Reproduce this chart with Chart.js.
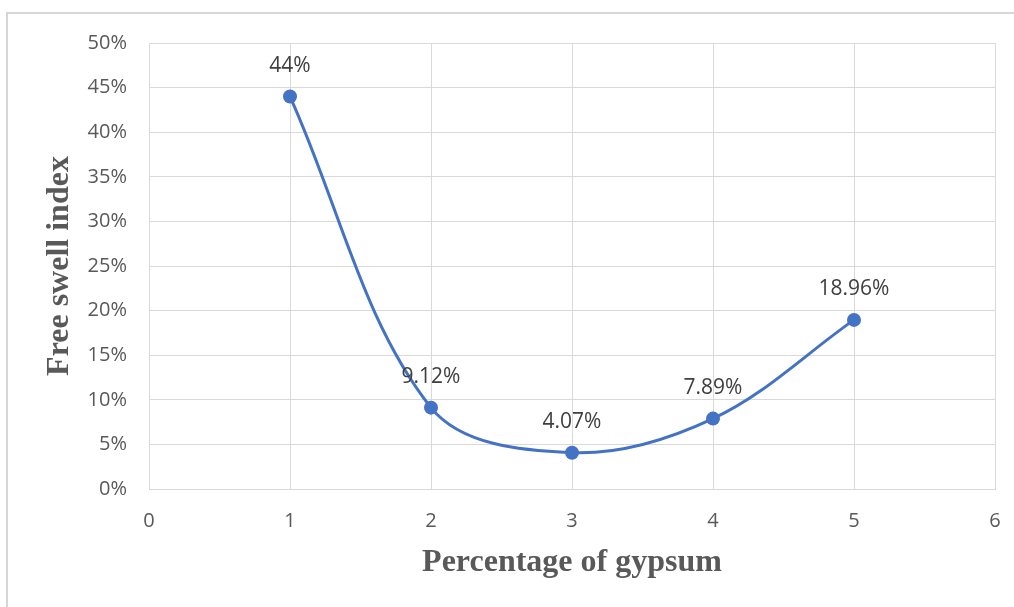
<!DOCTYPE html>
<html>
<head>
<meta charset="utf-8">
<script src="https://cdn.jsdelivr.net/npm/chart.js@4/dist/chart.umd.min.js"></script>
<style>
html,body{margin:0;padding:0;background:#fff;}
#wrap{width:1014px;height:607px;position:relative;}
</style>
</head>
<body>
<div id="wrap"><canvas id="c" width="1014" height="607"></canvas></div>
<script>
const gypsum = [1, 2, 3, 4, 5];
const swellIndex = [0.44, 0.0912, 0.0407, 0.0789, 0.1896];
const pointLabels = ['44%', '9.12%', '4.07%', '7.89%', '18.96%'];
const xTitle = 'Percentage of gypsum';
const yTitle = 'Free swell index';

const blue = '#4472C4';
const gridColor = '#d9d9d9';
const tickFont = {family: "'Open Sans', 'Liberation Sans', sans-serif", size: 20};
const titleFont = {family: "'Liberation Serif', 'Times New Roman', serif", size: 32, weight: 'bold'};

const framePlugin = {
  id: 'frame',
  beforeDraw(chart) {
    const ctx = chart.ctx;
    ctx.save();
    ctx.fillStyle = '#fff';
    ctx.fillRect(0, 0, chart.width, chart.height);
    ctx.strokeStyle = '#d6d6d6';
    ctx.lineWidth = 2;
    ctx.beginPath();
    ctx.moveTo(7, chart.height + 5);
    ctx.lineTo(7, 13);
    ctx.lineTo(chart.width + 5, 13);
    ctx.stroke();
    ctx.restore();
  }
};

const labelPlugin = {
  id: 'pointLabels',
  afterDatasetsDraw(chart) {
    const ctx = chart.ctx;
    const meta = chart.getDatasetMeta(0);
    ctx.save();
    ctx.font = "21px 'Open Sans', 'Liberation Sans', sans-serif";
    ctx.fillStyle = '#404040';
    ctx.textAlign = 'center';
    ctx.textBaseline = 'middle';
    meta.data.forEach((pt, i) => {
      ctx.fillText(pointLabels[i], pt.x, pt.y - 31);
    });
    ctx.restore();
  }
};

new Chart(document.getElementById('c'), {
  type: 'line',
  data: {
    datasets: [{
      data: gypsum.map((x, i) => ({x: x, y: swellIndex[i]})),
      borderColor: blue,
      backgroundColor: blue,
      borderWidth: 3,
      pointRadius: 7,
      pointHoverRadius: 7,
      pointBackgroundColor: blue,
      pointBorderColor: blue,
      pointBorderWidth: 0,
      tension: 0.35,
      fill: false,
      clip: false
    }]
  },
  options: {
    responsive: false,
    animation: false,
    devicePixelRatio: 1,
    layout: {padding: {top: 43, right: 19, left: 0, bottom: 0}},
    plugins: {legend: {display: false}, tooltip: {enabled: false}},
    scales: {
      x: {
        type: 'linear',
        min: 0, max: 6,
        ticks: {stepSize: 1, padding: 20, color: '#595959', font: tickFont, maxRotation: 0},
        grid: {color: gridColor, lineWidth: 1, drawTicks: false},
        border: {color: gridColor, width: 1},
        title: {display: true, text: xTitle, color: '#595959', font: titleFont, padding: {top: 0, bottom: 25}},
        afterFit(s) { s.height = 118; s.paddingLeft = 0; s.paddingRight = 0; }
      },
      y: {
        min: 0, max: 0.5,
        ticks: {stepSize: 0.05, padding: 22, color: '#595959', font: tickFont,
          callback: v => Math.round(v * 100) + '%'},
        grid: {color: gridColor, lineWidth: 1, drawTicks: false},
        border: {color: gridColor, width: 1},
        title: {display: true, text: yTitle, color: '#595959', font: titleFont, padding: {top: 41, bottom: 0}},
        afterFit(s) { s.width = 149; s.paddingTop = 0; s.paddingBottom = 0; }
      }
    }
  },
  plugins: [framePlugin, labelPlugin]
});
</script>
</body>
</html>
